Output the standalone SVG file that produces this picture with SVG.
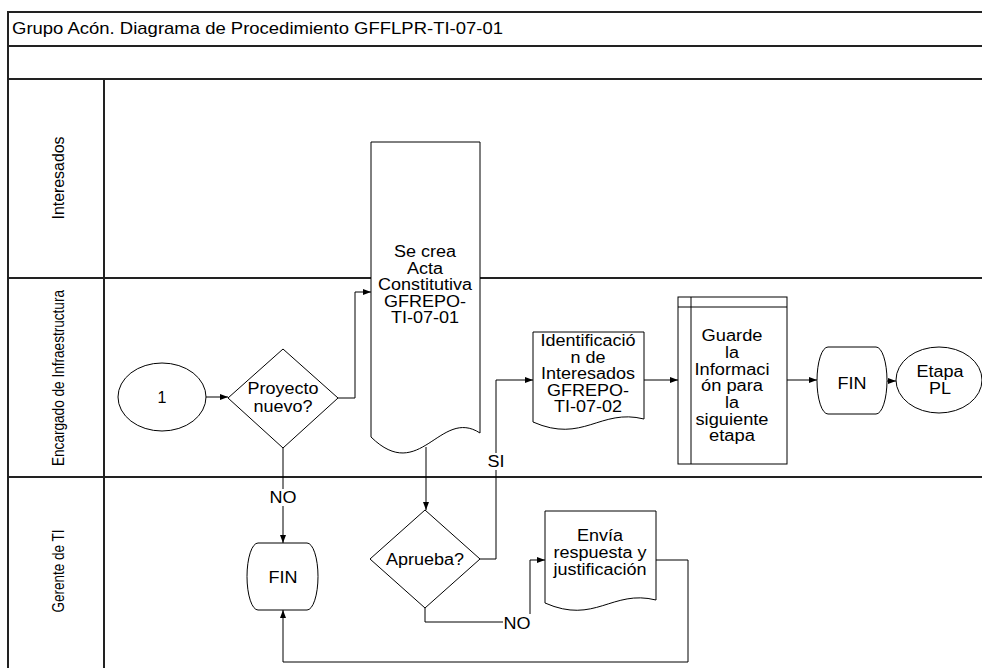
<svg xmlns="http://www.w3.org/2000/svg" width="982" height="668" viewBox="0 0 982 668">
  <style>
    .frame { fill: none; stroke: #222; stroke-width: 2; }
    .shape { fill: #fff; stroke: #000; stroke-width: 1; }
    .conn { fill: none; stroke: #000; stroke-width: 1; }
    .t { font-family: "Liberation Sans", Arial, sans-serif; font-size: 16px; fill: #000; text-anchor: middle; }
    .title { font-family: "Liberation Sans", Arial, sans-serif; font-size: 17px; fill: #000; }
    .lane { font-family: "Liberation Sans", Arial, sans-serif; font-size: 17px; fill: #000; text-anchor: middle; }
  </style>
  <defs>
    <marker id="arrow" markerWidth="8" markerHeight="6" refX="8" refY="3" orient="auto" markerUnits="userSpaceOnUse">
      <path d="M0,0 L8,3 L0,6 z" fill="#000"/>
    </marker>
  </defs>

  <rect x="0" y="0" width="982" height="668" fill="#fff"/>

  <!-- pool frame and swimlanes -->
  <g id="pool">
    <path class="frame" d="M982,12 H8 V668"/>
    <line class="frame" x1="8" y1="46" x2="982" y2="46" stroke="#555"/>
    <line class="frame" x1="8" y1="79" x2="982" y2="79"/>
    <line class="frame" x1="104" y1="79" x2="104" y2="668"/>
    <line class="frame" x1="8" y1="278" x2="982" y2="278"/>
    <line class="frame" x1="8" y1="477" x2="982" y2="477"/>
    <text class="title" x="12" y="34" textLength="491" lengthAdjust="spacingAndGlyphs">Grupo Acón. Diagrama de Procedimiento GFFLPR-TI-07-01</text>
    <text class="lane" x="64" y="178" transform="rotate(-90 64 178)" textLength="83" lengthAdjust="spacingAndGlyphs">Interesados</text>
    <text class="lane" x="64" y="378" transform="rotate(-90 64 378)" textLength="176" lengthAdjust="spacingAndGlyphs">Encargado de Infraestructura</text>
    <text class="lane" x="64" y="571" transform="rotate(-90 64 571)" textLength="83" lengthAdjust="spacingAndGlyphs">Gerente de TI</text>
  </g>

  <!-- connectors -->
  <g id="connectors">
    <path class="conn" d="M206,397 H228" marker-end="url(#arrow)"/>
    <path class="conn" d="M338,398 H355 V292 H371" marker-end="url(#arrow)"/>
    <path class="conn" d="M426,447 V510" marker-end="url(#arrow)"/>
    <path class="conn" d="M480,559 H496 V380 H533" marker-end="url(#arrow)"/>
    <path class="conn" d="M644,380 H678" marker-end="url(#arrow)"/>
    <path class="conn" d="M787,380 H817" marker-end="url(#arrow)"/>
    <path class="conn" d="M887,381 H896" marker-end="url(#arrow)"/>
    <path class="conn" d="M283,448 V543" marker-end="url(#arrow)"/>
    <path class="conn" d="M425,608 V622 H530 V560 H545" marker-end="url(#arrow)"/>
    <path class="conn" d="M656,560 H688 V662 H283 V610" marker-end="url(#arrow)"/>
    <rect x="486" y="453" width="20" height="17" fill="#fff"/>
    <text class="t" x="496" y="467" textLength="17" lengthAdjust="spacingAndGlyphs">SI</text>
    <rect x="269" y="489" width="28" height="17" fill="#fff"/>
    <text class="t" x="283" y="503" textLength="27" lengthAdjust="spacingAndGlyphs">NO</text>
    <rect x="503" y="614" width="29" height="17" fill="#fff"/>
    <text class="t" x="517" y="629" textLength="27" lengthAdjust="spacingAndGlyphs">NO</text>
  </g>

  <!-- start connector -->
  <g id="inicio">
    <ellipse class="shape" cx="162" cy="397" rx="44" ry="34"/>
    <text class="t" x="162" y="403">1</text>
  </g>

  <g id="proyecto-nuevo">
    <polygon class="shape" points="283,349 338,398 283,448 228,398"/>
    <text class="t" x="283" y="394" textLength="71" lengthAdjust="spacingAndGlyphs">Proyecto</text>
    <text class="t" x="283" y="412" textLength="59" lengthAdjust="spacingAndGlyphs">nuevo?</text>
  </g>

  <g id="acta-constitutiva">
    <path class="shape" d="M371,142 H480 V433 C440,407 420,485 371,437 Z"/>
    <text class="t" x="425" y="257" textLength="62" lengthAdjust="spacingAndGlyphs">Se crea</text>
    <text class="t" x="425" y="274" textLength="36" lengthAdjust="spacingAndGlyphs">Acta</text>
    <text class="t" x="425" y="290" textLength="94" lengthAdjust="spacingAndGlyphs">Constitutiva</text>
    <text class="t" x="425" y="307" textLength="82" lengthAdjust="spacingAndGlyphs">GFREPO-</text>
    <text class="t" x="425" y="323" textLength="68" lengthAdjust="spacingAndGlyphs">TI-07-01</text>
  </g>

  <g id="aprueba">
    <polygon class="shape" points="425,510 480,559 425,608 370,559"/>
    <text class="t" x="425" y="565" textLength="78" lengthAdjust="spacingAndGlyphs">Aprueba?</text>
  </g>

  <g id="identificacion-interesados">
    <path class="shape" d="M533,332 H644 V419 C600,408 583,444 533,422 Z"/>
    <text class="t" x="588" y="346" textLength="95" lengthAdjust="spacingAndGlyphs">Identificació</text>
    <text class="t" x="588" y="363" textLength="35" lengthAdjust="spacingAndGlyphs">n de</text>
    <text class="t" x="588" y="379" textLength="94" lengthAdjust="spacingAndGlyphs">Interesados</text>
    <text class="t" x="588" y="396" textLength="82" lengthAdjust="spacingAndGlyphs">GFREPO-</text>
    <text class="t" x="588" y="412" textLength="68" lengthAdjust="spacingAndGlyphs">TI-07-02</text>
  </g>

  <g id="guarde-informacion">
    <rect class="shape" x="678" y="297" width="109" height="167"/>
    <line class="conn" x1="691" y1="297" x2="691" y2="464"/>
    <line class="conn" x1="678" y1="307" x2="787" y2="307"/>
    <text class="t" x="732" y="341" textLength="61" lengthAdjust="spacingAndGlyphs">Guarde</text>
    <text class="t" x="732" y="358" textLength="14" lengthAdjust="spacingAndGlyphs">la</text>
    <text class="t" x="732" y="375" textLength="75" lengthAdjust="spacingAndGlyphs">Informaci</text>
    <text class="t" x="732" y="391" textLength="62" lengthAdjust="spacingAndGlyphs">ón para</text>
    <text class="t" x="732" y="408" textLength="14" lengthAdjust="spacingAndGlyphs">la</text>
    <text class="t" x="732" y="425" textLength="73" lengthAdjust="spacingAndGlyphs">siguiente</text>
    <text class="t" x="732" y="441" textLength="46" lengthAdjust="spacingAndGlyphs">etapa</text>
  </g>

  <g id="fin-encargado">
    <rect class="shape" x="817" y="347" width="70" height="67" rx="11" ry="33.5"/>
    <text class="t" x="852" y="389" textLength="29" lengthAdjust="spacingAndGlyphs">FIN</text>
  </g>

  <g id="etapa-pl">
    <ellipse class="shape" cx="939" cy="380" rx="43" ry="33"/>
    <text class="t" x="940" y="377" textLength="47" lengthAdjust="spacingAndGlyphs">Etapa</text>
    <text class="t" x="940" y="394" textLength="22" lengthAdjust="spacingAndGlyphs">PL</text>
  </g>

  <g id="fin-gerente">
    <rect class="shape" x="247" y="543" width="71" height="67" rx="11" ry="33.5"/>
    <text class="t" x="283" y="583" textLength="29" lengthAdjust="spacingAndGlyphs">FIN</text>
  </g>

  <g id="envia-respuesta">
    <path class="shape" d="M545,511 H656 V600 C612,589 595,625 545,603 Z"/>
    <text class="t" x="600" y="541" textLength="46" lengthAdjust="spacingAndGlyphs">Envía</text>
    <text class="t" x="600" y="558" textLength="93" lengthAdjust="spacingAndGlyphs">respuesta y</text>
    <text class="t" x="600" y="575" textLength="93" lengthAdjust="spacingAndGlyphs">justificación</text>
  </g>
</svg>
